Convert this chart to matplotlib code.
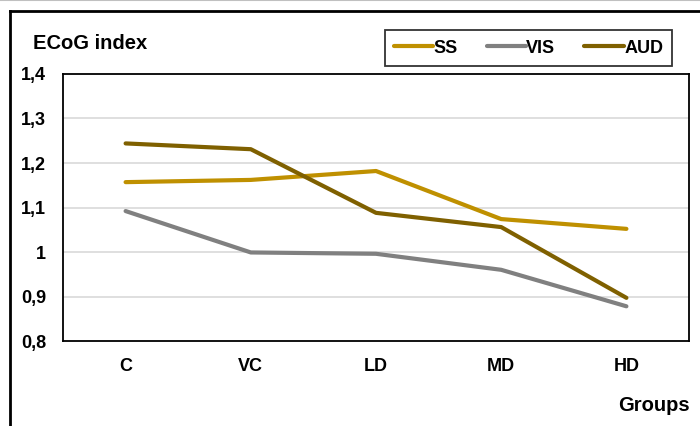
import matplotlib.pyplot as plt
from matplotlib.lines import Line2D

groups = ["C", "VC", "LD", "MD", "HD"]
ss = [1.157, 1.162, 1.182, 1.074, 1.052]
vis = [1.092, 0.999, 0.996, 0.960, 0.878]
aud = [1.244, 1.231, 1.088, 1.056, 0.897]
yticks = [0.8, 0.9, 1.0, 1.1, 1.2, 1.3, 1.4]
ylabels = ["0,8", "0,9", "1", "1,1", "1,2", "1,3", "1,4"]

plt.rcParams['font.family'] = ['Liberation Sans', 'DejaVu Sans']
plt.rcParams['font.weight'] = 'bold'

fig = plt.figure(figsize=(7, 4.26), dpi=100)
ax = fig.add_axes([0.09, 0.1995, 0.8943, 0.6268])

x = [i + 0.5 for i in range(len(groups))]
ax.plot(x, ss, color='#BF9000', lw=3, label='SS', solid_capstyle='round')
ax.plot(x, vis, color='#808080', lw=3, label='VIS', solid_capstyle='round')
ax.plot(x, aud, color='#7F6000', lw=3, label='AUD', solid_capstyle='round')

ax.set_xlim(0, 5)
ax.set_ylim(0.8, 1.4)
ax.set_xticks(x)
ax.set_xticklabels(groups, fontsize=13, fontweight='bold')
ax.set_yticks(yticks)
ax.set_yticklabels(ylabels, fontsize=13, fontweight='bold')
ax.tick_params(length=0)
ax.tick_params(axis='y', pad=12)
ax.tick_params(axis='x', pad=12)
for y in yticks[1:-1]:
    ax.axhline(y, color='#D9D9D9', lw=1.2, zorder=0)
for s in ax.spines.values():
    s.set_linewidth(1.3)
    s.set_color('black')

leg = ax.legend(loc='upper right', bbox_to_anchor=(0.973, 1.163), ncol=3,
                frameon=True, fancybox=False, edgecolor='black',
                prop={'size': 13, 'weight': 'bold'}, handlelength=2.2,
                handletextpad=0.0, columnspacing=1.6, borderpad=0.5,
                borderaxespad=0)
leg.get_frame().set_linewidth(1.3)

fig.text(0.047, 0.898, "ECoG index", fontsize=14.5, fontweight='bold', va='center')
fig.text(0.986, 0.047, "Groups", fontsize=14.5, fontweight='bold', ha='right', va='center')

# outer frame and top rule
fig.add_artist(Line2D([10 / 700, 10 / 700], [0, 1 - 11 / 426], color='black', lw=2, transform=fig.transFigure))
fig.add_artist(Line2D([10 / 700, 1], [1 - 11 / 426, 1 - 11 / 426], color='black', lw=2, transform=fig.transFigure))
fig.add_artist(Line2D([0, 1], [0.999, 0.999], color='#C0C0C0', lw=1.5, transform=fig.transFigure))

fig.savefig("out.png", dpi=100)
